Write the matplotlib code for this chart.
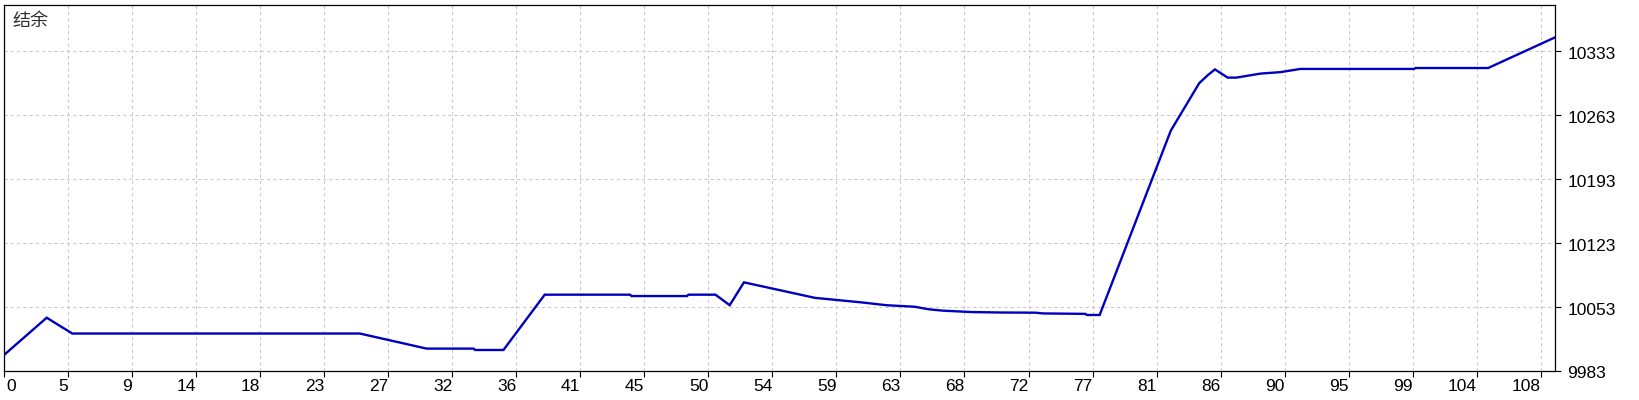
import numpy as np
import matplotlib
matplotlib.use("Agg")
import matplotlib.pyplot as plt
import matplotlib.transforms as mtransforms

# balance curve vertices (trade number, balance)
trade_no = [0, 3, 4.8, 25, 27, 29.7, 33, 33.1, 35.1, 38, 44, 44.1, 48, 48.1, 50,
            51, 52, 57, 58, 60.3, 62, 64, 65, 66, 68, 70, 72.5, 73, 76, 76.1, 77,
            82, 84, 84.6, 85.1, 86, 86.6, 88.3, 89.7, 91.1, 99.1, 99.2, 104.3, 109]
balance = [10000.5, 10041.3, 10024, 10024, 10017, 10007.5, 10007.5, 10006, 10006,
           10066.5, 10066.5, 10065, 10065, 10066.5, 10066.5,
           10055, 10080, 10063, 10061.5, 10058, 10055, 10053.3, 10050.5, 10049,
           10047.5, 10047, 10046.8, 10046, 10045.5, 10044.3, 10044.3,
           10246, 10298, 10306.7, 10313, 10304, 10304, 10308.4, 10310,
           10313.5, 10313.5, 10314.5, 10314.5, 10348]

y_ticks = [9983, 10053, 10123, 10193, 10263, 10333]
x_tick_labels = ["0", "5", "9", "14", "18", "23", "27", "32", "36", "41", "45",
                 "50", "54", "59", "63", "68", "72", "77", "81", "86", "90", "95",
                 "99", "104", "108"]
x_ticks = np.arange(len(x_tick_labels)) * 4.5

plt.rcParams['font.family'] = ['Liberation Sans', 'DejaVu Sans']

fig = plt.figure(figsize=(16.4, 4.0), dpi=100)
ax = fig.add_axes([4 / 1640, 1 - 371 / 400, 1551 / 1640, 366.5 / 400])

ax.plot(trade_no, balance, color='#0000c0', lw=1.7, solid_joinstyle='miter')

ax.set_xlim(0, 109)
ax.set_ylim(9983, 10384)

ax.set_yticks(y_ticks)
ax.yaxis.tick_right()
ax.tick_params(axis='y', direction='out', length=4, width=0.8, pad=5,
               labelsize=12.5, colors='black')
ax.set_xticks(x_ticks)
ax.set_xticklabels(x_tick_labels)
ax.tick_params(axis='x', direction='out', length=4, width=0.8, pad=2,
               labelsize=12.5, colors='black')

# labels sit left of their tick, first one inside
for i, lab in enumerate(ax.get_xticklabels()):
    if i == 0:
        lab.set_ha('left')
        lab.set_transform(lab.get_transform() +
                          mtransforms.ScaledTranslation(2.5 / 100, 0, fig.dpi_scale_trans))
    else:
        lab.set_ha('right')
for lab in ax.get_yticklabels():
    lab.set_transform(lab.get_transform() +
                      mtransforms.ScaledTranslation(0, -1.5 / 100, fig.dpi_scale_trans))

ax.grid(True, color='#c8c8c8', lw=0.75, linestyle=(0, (3, 3)))
for sp in ax.spines.values():
    sp.set_color('black')
    sp.set_linewidth(0.9)

ax.text(8.5 / 1551, 1 - 7 / 366.5, '结余', transform=ax.transAxes, ha='left', va='top',
        fontsize=13, color='#303030',
        family=['Noto Sans CJK SC', 'DejaVu Sans'])

fig.savefig('out.png', dpi=100)
